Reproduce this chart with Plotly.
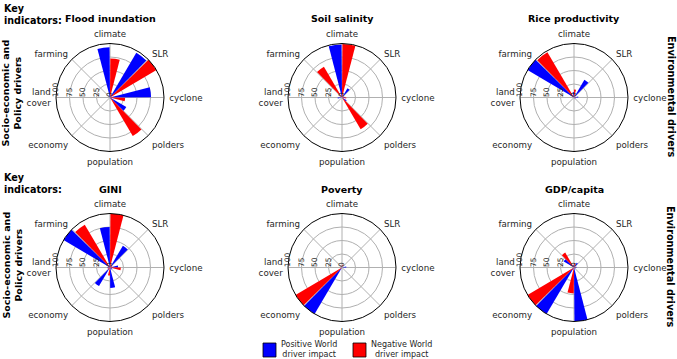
import plotly.graph_objects as go

W, H = 677, 359

categories = ["cyclone", "SLR", "climate", "farming", "land<br>cover", "economy", "population", "polders"]

titles = ["Flood inundation", "Soil salinity", "Rice productivity", "GINI", "Poverty", "GDP/capita"]

# values per indicator, ordered as categories
positive = [
    [76, 96, 93, 3, 0, 0, 2, 35],      # Flood inundation
    [6, 20, 98, 0, 8, 0, 0, 10],        # Soil salinity
    [8, 38, 10, 100, 0, 0, 0, 3],       # Rice productivity
    [15, 47, 75, 100, 5, 40, 38, 5],    # GINI
    [8, 0, 3, 0, 0, 100, 0, 0],         # Poverty
    [5, 10, 5, 22, 0, 100, 100, 3],     # GDP/capita
]
negative = [
    [28, 100, 72, 0, 0, 0, 0, 83],
    [8, 4, 99, 66, 0, 0, 0, 68],
    [3, 0, 15, 97, 0, 0, 0, 0],
    [20, 5, 100, 92, 3, 5, 15, 3],
    [0, 0, 5, 5, 0, 100, 0, 0],
    [3, 3, 8, 32, 0, 100, 48, 0],
]
radial_ticks = [0, 25, 50, 75, 100]
legend_labels = ["Positive World<br>driver impact", "Negative World<br>driver impact"]

BLUE = "#0000ff"
RED = "#ff0000"
TXT = "#262626"
FONT = "DejaVu Sans"

centers_x = [110, 342, 574]
centers_y = [97.5, 267.5]
R = 54
STEP = 45
OFF = 7.5
BW = 14

fig = go.Figure()
layout = {}
for k in range(6):
    name = "polar" if k == 0 else f"polar{k+1}"
    cx = centers_x[k % 3]
    cy = centers_y[k // 3]
    theta_pos = [i * STEP + OFF for i in range(len(categories))]
    theta_neg = [i * STEP - OFF for i in range(len(categories))]
    fig.add_trace(go.Barpolar(r=positive[k], theta=theta_pos, width=BW, name=legend_labels[0].replace("<br>", " "),
                              marker=dict(color=BLUE, line=dict(width=0)),
                              subplot=name, showlegend=False))
    fig.add_trace(go.Barpolar(r=negative[k], theta=theta_neg, width=BW, name=legend_labels[1].replace("<br>", " "),
                              marker=dict(color=RED, line=dict(width=0)),
                              subplot=name, showlegend=False))
    layout[name] = dict(
        domain=dict(x=[(cx - R) / W, (cx + R) / W], y=[1 - (cy + R) / H, 1 - (cy - R) / H]),
        bgcolor="white",
        radialaxis=dict(range=[0, 100], tickvals=radial_ticks, ticktext=[str(v) for v in radial_ticks],
                        angle=180, tickangle=90, showline=False, ticks="",
                        gridcolor="#b0b0b0", gridwidth=1,
                        tickfont=dict(family=FONT, size=7.5, color=TXT)),
        angularaxis=dict(thetaunit="degrees", rotation=0, direction="counterclockwise",
                         tickvals=[i * STEP for i in range(len(categories))], ticktext=categories,
                         showline=True, linecolor="black", linewidth=1,
                         ticks="outside", ticklen=3, tickcolor="rgba(0,0,0,0)",
                         gridcolor="#b0b0b0", gridwidth=1,
                         tickfont=dict(family=FONT, size=8.7, color=TXT)),
    )

annotations = []
for k, t in enumerate(titles):
    cx = centers_x[k % 3]
    ty = 19 if k < 3 else 189
    annotations.append(dict(text=f"<b>{t}</b>", x=cx / W, y=1 - ty / H, xref="paper", yref="paper",
                            showarrow=False, xanchor="center", yanchor="middle",
                            font=dict(family=FONT, size=9.5, color="black")))
for ky in [1, 170]:
    annotations.append(dict(text="<b>Key<br>indicators:</b>", x=2 / W, y=1 - ky / H, xref="paper", yref="paper",
                            showarrow=False, xanchor="left", yanchor="top", align="left",
                            font=dict(family=FONT, size=9.6, color="black")))
for cy in [93, 265]:
    annotations.append(dict(text="<b>Socio-economic and<br>Policy drivers</b>", x=11.5 / W, y=1 - cy / H,
                            xref="paper", yref="paper", showarrow=False, textangle=-90,
                            xanchor="center", yanchor="middle",
                            font=dict(family=FONT, size=9.5, color="black")))
for cy in [97, 267]:
    annotations.append(dict(text="<b>Environmental drivers</b>", x=671 / W, y=1 - cy / H,
                            xref="paper", yref="paper", showarrow=False, textangle=90,
                            xanchor="center", yanchor="middle",
                            font=dict(family=FONT, size=9.7, color="black")))

# legend drawn as boxes + text
shapes = []
leg_colors = [BLUE, RED]
leg_box_x = [263, 353]
leg_text_x = [309, 401]
for i in range(2):
    shapes.append(dict(type="rect", xref="paper", yref="paper",
                       x0=leg_box_x[i] / W, x1=(leg_box_x[i] + 13) / W,
                       y0=1 - 357 / H, y1=1 - 343 / H,
                       fillcolor=leg_colors[i], line=dict(color="black", width=0.8)))
    annotations.append(dict(text=legend_labels[i], x=leg_text_x[i] / W, y=1 - 349 / H,
                            xref="paper", yref="paper", showarrow=False, align="center",
                            xanchor="center", yanchor="middle",
                            font=dict(family=FONT, size=8, color=TXT)))

fig.update_layout(
    width=W, height=H,
    margin=dict(l=0, r=0, t=0, b=0),
    paper_bgcolor="white", plot_bgcolor="white",
    annotations=annotations,
    shapes=shapes,
    showlegend=False,
    **layout,
)

fig.write_html("out.html")
